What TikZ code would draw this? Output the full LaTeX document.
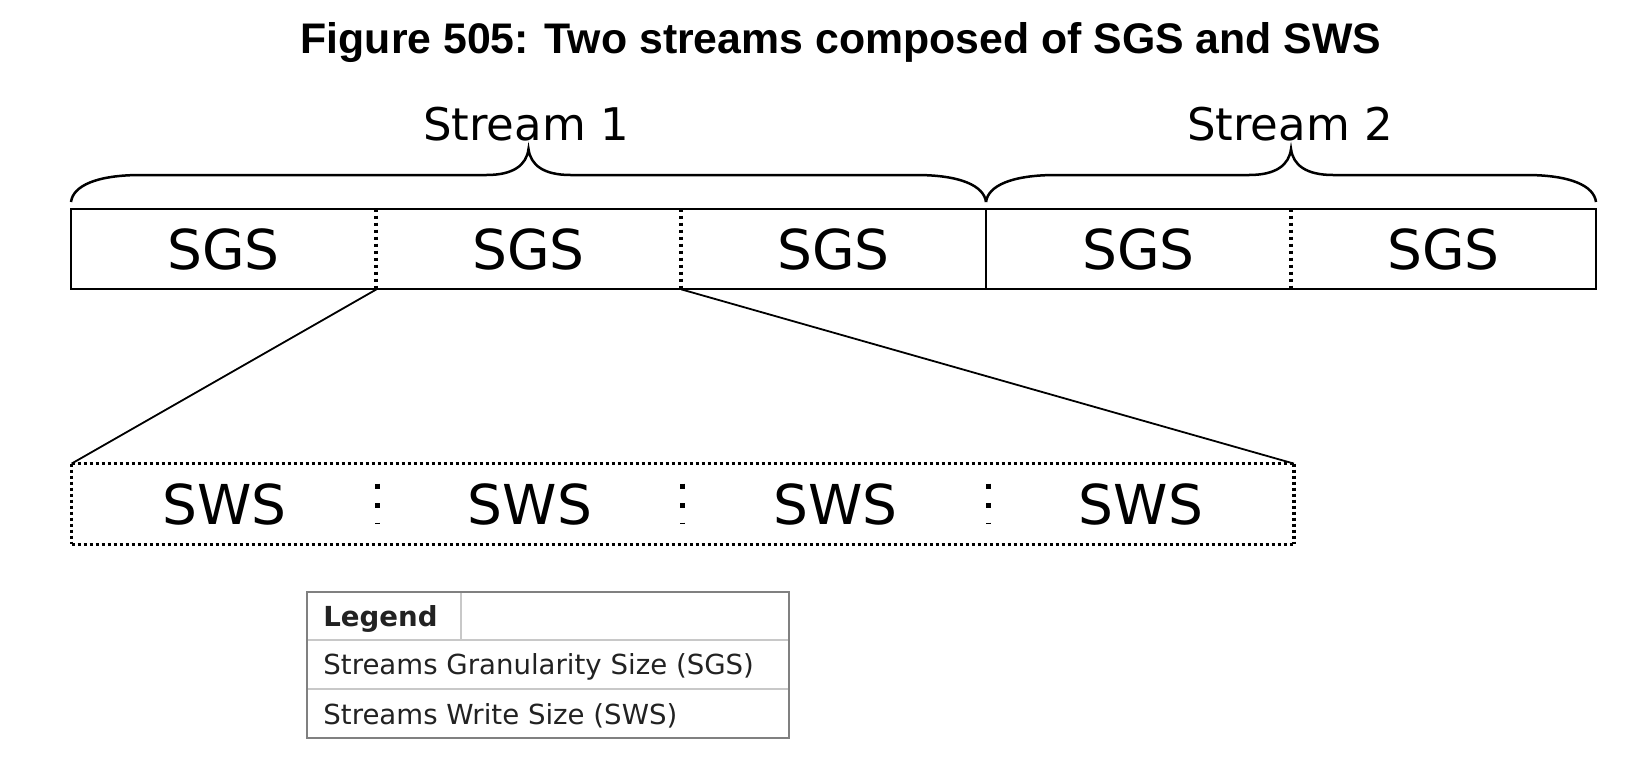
\documentclass[tikz,border=0pt]{standalone}
\usepackage{fontspec}
\setmainfont{DejaVu Sans}
\newfontfamily\titlefont{Liberation Sans}
\definecolor{legborder}{HTML}{808080}
\definecolor{leginner}{HTML}{C8C8C8}
\definecolor{legtext}{HTML}{222222}
\begin{document}
\begin{tikzpicture}[x=0.5pt,y=-0.5pt,
  cell/.style={minimum width=152.5pt, minimum height=40pt, inner sep=0pt, font=\fontsize{27.5}{30}\selectfont},
  streamlbl/.style={inner sep=0pt, font=\fontsize{22.5}{26}\selectfont},
  bracestyle/.style={line width=1.25pt},
  boxline/.style={line width=1pt},
  dotline/.style={line width=1.8pt, dash pattern=on 1.6pt off 1.4pt},
  vdots/.style={line width=2pt, dash pattern=on 1.8pt off 1.7pt},
  swsdots/.style={line width=2.5pt, dash pattern=on 2.5pt off 7.25pt},
  zoomline/.style={line width=0.9pt},
  legtxt/.style={anchor=west, inner sep=0pt, text=legtext, font=\fontsize{13.8}{16}\selectfont},
]
\useasboundingbox (0,0) rectangle (1636,766);

% title
\node[inner sep=0pt, font=\titlefont\bfseries\fontsize{21.4}{24}\selectfont] (title) at (841,43) {Figure 505: Two streams composed of SGS and SWS};

% SGS cells
\node[cell] (sgs1) at (223.5,249) {SGS};
\node[cell] (sgs2) at (528.5,249) {SGS};
\node[cell] (sgs3) at (833.5,249) {SGS};
\node[cell] (sgs4) at (1138.5,249) {SGS};
\node[cell] (sgs5) at (1443.5,249) {SGS};
\draw[boxline] (sgs1.north west) rectangle (sgs5.south east);
\draw[boxline] (sgs3.north east) -- (sgs3.south east);
\draw[vdots] (sgs1.north east) -- (sgs1.south east);
\draw[vdots] (sgs2.north east) -- (sgs2.south east);
\draw[vdots] (sgs4.north east) -- (sgs4.south east);

% braces
\draw[bracestyle] (71,202) .. controls (73,186) and (96,175) .. (141,175) -- (486.5,175)
  .. controls (513.5,175) and (526.5,165) .. (528.5,149)
  .. controls (530.5,165) and (543.5,175) .. (570.5,175) -- (916,175)
  .. controls (961,175) and (984,186) .. (986,202);
\draw[bracestyle] (986,202) .. controls (988,186) and (1011,175) .. (1056,175) -- (1249,175)
  .. controls (1276,175) and (1289,165) .. (1291,149)
  .. controls (1293,165) and (1306,175) .. (1333,175) -- (1526,175)
  .. controls (1571,175) and (1594,186) .. (1596,202);
\node[streamlbl] (s1) at (526,124) {Stream 1};
\node[streamlbl] (s2) at (1290,124) {Stream 2};

% SWS cells
\node[cell] (sws1) at (224.5,504) {SWS};
\node[cell] (sws2) at (530,504) {SWS};
\node[cell] (sws3) at (835.5,504) {SWS};
\node[cell] (sws4) at (1141,504) {SWS};
\draw[dotline] (sws1.north west) -- (sws4.north east);
\draw[dotline] (sws1.south west) -- (sws4.south east);
\draw[dotline] (sws1.north west) -- (sws1.south west);
\draw[dotline] (sws4.north east) -- (sws4.south east);
\draw[swsdots] ([yshift=-10pt]sws1.north east) -- ([yshift=10pt]sws1.south east);
\draw[swsdots] ([yshift=-10pt]sws2.north east) -- ([yshift=10pt]sws2.south east);
\draw[swsdots] ([yshift=-10pt]sws3.north east) -- ([yshift=10pt]sws3.south east);

% zoom lines
\draw[zoomline] (sgs1.south east) -- (sws1.north west);
\draw[zoomline] (sgs2.south east) -- (sws4.north east);

% legend
\coordinate (lnw) at (307,592);
\coordinate (lse) at (789,738);
\draw[leginner, line width=0.6pt] (307,640) -- (789,640);
\draw[leginner, line width=0.6pt] (307,689) -- (789,689);
\draw[leginner, line width=0.6pt] (461,592) -- (461,640);
\draw[legborder, line width=1pt] (lnw) rectangle (lse);
\node[legtxt, font=\bfseries\fontsize{13.8}{16}\selectfont] (leg) at (323,619) {Legend};
\node[legtxt] (leg1) at (323,667) {Streams Granularity Size (SGS)};
\node[legtxt] (leg2) at (323,716) {Streams Write Size (SWS)};
\end{tikzpicture}
\end{document}
